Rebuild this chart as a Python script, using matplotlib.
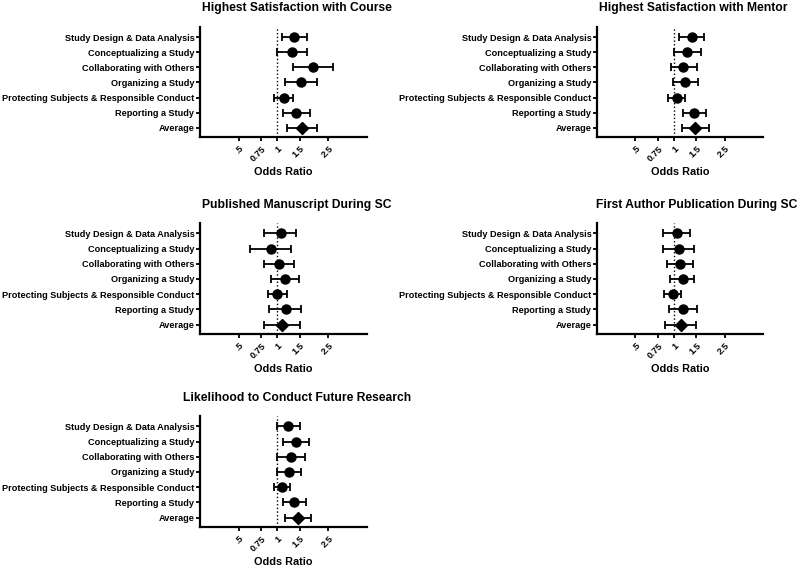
import numpy as np
import matplotlib
matplotlib.use("Agg")
import matplotlib.pyplot as plt
from matplotlib.ticker import FixedLocator, NullLocator

plt.rcParams['font.family'] = ['Liberation Sans', 'DejaVu Sans']
plt.rcParams['font.weight'] = 'bold'

categories = ["Study Design & Data Analysis", "Conceptualizing a Study",
              "Collaborating with Others", "Organizing a Study",
              "Protecting Subjects & Responsible Conduct", "Reporting a Study",
              "Average"]
tick_vals = [0.5, 0.75, 1, 1.5, 2.5]
tick_labels = [".5", "0.75", "1", "1.5", "2.5"]

titles = ["Highest Satisfaction with Course", "Highest Satisfaction with Mentor",
          "Published Manuscript During SC", "First Author Publication During SC",
          "Likelihood to Conduct Future Research"]

# odds ratio, lower CI, upper CI per panel
or_course = [1.35, 1.31, 1.90, 1.54, 1.13, 1.40, 1.56]
lo_course = [1.09, 1.00, 1.33, 1.15, 0.94, 1.11, 1.20]
hi_course = [1.71, 1.71, 2.72, 2.05, 1.33, 1.79, 2.04]

or_mentor = [1.38, 1.27, 1.19, 1.23, 1.05, 1.45, 1.46]
lo_mentor = [1.10, 1.01, 0.95, 0.98, 0.90, 1.17, 1.16]
hi_mentor = [1.71, 1.63, 1.51, 1.55, 1.23, 1.80, 1.87]

or_manu = [1.07, 0.89, 1.04, 1.15, 1.00, 1.16, 1.08]
lo_manu = [0.79, 0.61, 0.79, 0.89, 0.84, 0.86, 0.79]
hi_manu = [1.41, 1.28, 1.36, 1.47, 1.20, 1.54, 1.51]

or_first = [1.05, 1.09, 1.12, 1.17, 0.98, 1.19, 1.13]
lo_first = [0.82, 0.82, 0.89, 0.94, 0.84, 0.92, 0.85]
hi_first = [1.33, 1.43, 1.41, 1.45, 1.14, 1.51, 1.48]

or_future = [1.22, 1.39, 1.28, 1.23, 1.09, 1.35, 1.45]
lo_future = [1.00, 1.11, 1.00, 0.99, 0.94, 1.11, 1.15]
hi_future = [1.49, 1.77, 1.63, 1.54, 1.26, 1.67, 1.84]

panels = [(or_course, lo_course, hi_course), (or_mentor, lo_mentor, hi_mentor),
          (or_manu, lo_manu, hi_manu), (or_first, lo_first, hi_first),
          (or_future, lo_future, hi_future)]

W, H = 800, 566
fig = plt.figure(figsize=(W / 100, H / 100), dpi=100)

# axes boxes in pixels: (left, top, right, bottom)
boxes = [(200, 27, 367, 137), (597, 27, 763, 137),
         (200, 223, 367, 334), (597, 223, 763, 334),
         (200, 416, 367, 527)]
title_pos = [(297, 8), (693, 8), (297, 205), (697, 205), (297, 398)]

for i, (vals, lo, hi) in enumerate(panels):
    l, t, r, b = boxes[i]
    ax = fig.add_axes([l / W, 1 - b / H, (r - l) / W, (b - t) / H])
    vals = np.array(vals)
    y = np.arange(len(categories))
    err = [vals - np.array(lo), np.array(hi) - vals]
    ax.errorbar(vals[:-1], y[:-1], xerr=[e[:-1] for e in err], fmt='o', color='black',
                ms=6.5, elinewidth=1.3, capsize=3, capthick=1.3)
    ax.errorbar(vals[-1:], y[-1:], xerr=[e[-1:] for e in err], fmt='D', color='black',
                ms=6, elinewidth=1.3, capsize=3, capthick=1.3)
    ax.axvline(1, color='black', linestyle=':', linewidth=1)
    ax.set_xscale('log')
    ax.set_xlim(0.25, 5)
    ax.set_ylim(6.62, -0.68)
    ax.xaxis.set_major_locator(FixedLocator(tick_vals))
    ax.xaxis.set_minor_locator(NullLocator())
    ax.set_xticklabels(tick_labels, rotation=45, ha='right', rotation_mode='anchor',
                       fontsize=6.6, fontweight='bold')
    ax.set_yticks(y)
    ax.set_yticklabels(categories, fontsize=6.6, fontweight='bold')
    ax.tick_params(axis='both', length=3, width=1.3, pad=1)
    ax.tick_params(axis='x', pad=2)
    for s in ['top', 'right']:
        ax.spines[s].set_visible(False)
    for s in ['left', 'bottom']:
        ax.spines[s].set_linewidth(1.6)
    ax.set_xlabel("Odds Ratio", fontsize=7.8, fontweight='bold', labelpad=3)
    tx, ty = title_pos[i]
    fig.text(tx / W, 1 - ty / H, titles[i], ha='center', va='center',
             fontsize=8.7, fontweight='bold')

fig.savefig("out.png", dpi=100)
